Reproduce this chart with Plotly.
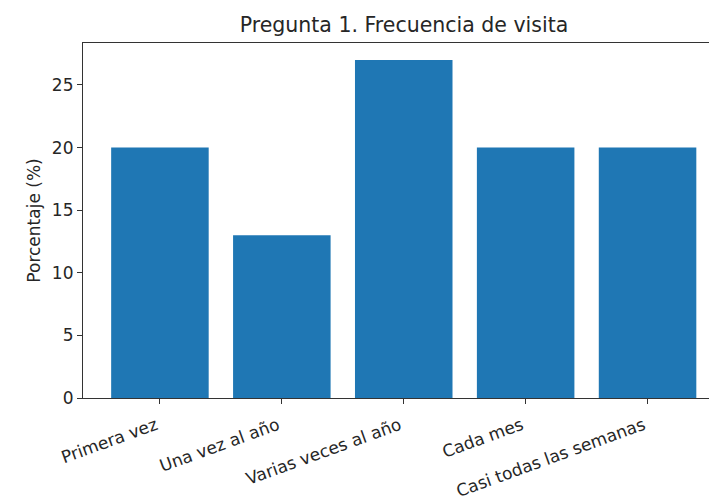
import plotly.graph_objects as go

categorias = ['Primera vez', 'Una vez al año', 'Varias veces al año', 'Cada mes', 'Casi todas las semanas']
porcentajes = [20, 13, 27, 20, 20]
y_ticks = [0, 5, 10, 15, 20, 25]

fig = go.Figure(go.Bar(
    x=list(range(len(categorias))), y=porcentajes,
    marker=dict(color='#1f77b4', line=dict(width=0)),
    width=0.8,
))

W, H = 709, 497
font = 'DejaVu Sans, sans-serif'
fig.update_layout(
    width=W, height=H,
    margin=dict(l=83, r=0, t=43, b=99, autoexpand=False),
    paper_bgcolor='white', plot_bgcolor='white',
    font=dict(family=font, size=17, color='#262626'),
    showlegend=False,
    title=dict(text='Pregunta 1. Frecuencia de visita', xref='container', x=404 / W,
               xanchor='center', yref='container', y=1 - 25 / H, yanchor='middle',
               font=dict(size=20.5, color='#262626')),
)
fig.update_xaxes(
    range=[-0.631, 4.504], tickmode='array', tickvals=list(range(len(categorias))),
    ticktext=categorias, tickangle=-20, ticks='outside', ticklen=5, tickcolor='#333',
    ticklabelstandoff=5, ticklabelshift=-4,
    showline=True, linecolor='#333', linewidth=1.2, mirror=True, showgrid=False,
    zeroline=False, automargin=False,
)
fig.update_yaxes(
    range=[0, 28.35], tickmode='array', tickvals=y_ticks, ticks='outside', ticklen=5,
    tickcolor='#333', showline=True, linecolor='#333', linewidth=1.2, showgrid=False,
    zeroline=False, automargin=False,
    title=dict(text='Porcentaje (%)', standoff=6, font=dict(size=17)),
)

# drop the default page margin so the figure fills the window
fig.write_html('out.html', config={'displayModeBar': False},
               post_script="document.body.style.margin='0';document.body.style.overflow='hidden';")
